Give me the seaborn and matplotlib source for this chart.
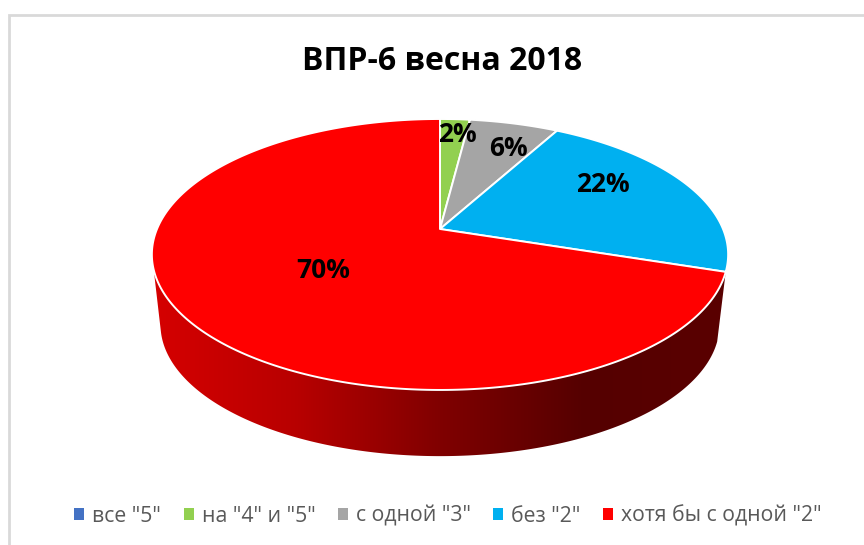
"""ВПР-6 весна 2018: 3D pie with a perspective projection."""

import matplotlib
matplotlib.use("Agg")
import matplotlib.pyplot as plt
import numpy as np
import seaborn as sns
from matplotlib.colors import ListedColormap
from matplotlib.patches import Patch, Polygon

categories = ['все "5"', 'на "4" и "5"', 'с одной "3"', 'без "2"', 'хотя бы с одной "2"']
shares = [0, 2, 6, 22, 70]
colors = ["#4472C4", "#92D050", "#A5A5A5", "#00B0F0", "#FF0000"]
title = "ВПР-6 весна 2018"

# label centres in pixels, one for each non-empty slice
label_xy = {2: (457, 135), 6: (508, 149), 22: (603, 184), 70: (323, 271)}

# projection of the disc
CX, CY = 440, 229
A, B, K = 283.0, 130.7, 0.188
SHRINK, DROP = 0.97, 71


def rim(theta, bottom=False):
    """Project clockwise-from-top angles (radians) on the disc edge."""
    u, v = np.sin(theta), np.cos(theta)
    x = A * u / (1 + K * v)
    y = -B * v / (1 + K * v)
    if bottom:
        return CX + SHRINK * x, CY + DROP + SHRINK * y
    return CX + x, CY + y


sns.set_theme(style="white")
plt.rcParams["font.family"] = ["Open Sans", "DejaVu Sans"]

fig = plt.figure(figsize=(8.64, 5.45), dpi=100)
ax = fig.add_axes([0, 0, 1, 1])

# chart frame, cut off by the screenshot
ax.plot([9, 9, 864], [545, 15, 15], color="#D9D9D9", lw=2, solid_joinstyle="miter")

edges = np.cumsum([0] + shares) / sum(shares) * 2 * np.pi

# red wall, shaded left to right and clipped to the visible side
wall = ListedColormap(sns.blend_palette(["#D60000", "#B80000", "#800000", "#550000", "#5A0000"], 256))
xt, yt = rim(np.linspace(edges[-2], 1.5 * np.pi - 0.30, 400))
xb, yb = rim(np.linspace(1.5 * np.pi - 0.25, edges[-2], 400), bottom=True)
side = Polygon(np.c_[np.r_[xt, xb], np.r_[yt, yb]], closed=True, transform=ax.transData, fc="none", ec="none")
ax.add_patch(side)
img = ax.imshow(np.linspace(0, 1, 256)[None, :], cmap=wall, extent=(150, 730, 460, 250), aspect="auto", zorder=2)
img.set_clip_path(side)

# top of the pie
for t0, t1, c in zip(edges[:-1], edges[1:], colors):
    if t1 <= t0:
        continue
    th = np.linspace(t0, t1, 300)
    xs, ys = rim(th)
    ax.fill(np.r_[CX, xs], np.r_[CY, ys], facecolor=c, edgecolor="white", lw=1.4,
            joinstyle="round", zorder=3)

for share in shares:
    if share > 0:
        x, y = label_xy[share]
        ax.text(x, y, f"{share}%", ha="center", va="center", fontsize=19,
                fontweight="bold", color="black", zorder=4)

ax.text(442, 61, title, ha="center", va="center", fontsize=23, fontweight="bold", color="black")

handles = [Patch(facecolor=c, edgecolor="none") for c in colors]
ax.legend(
    handles,
    categories,
    loc="center",
    bbox_to_anchor=(448, 516),
    bbox_transform=ax.transData,
    ncols=5,
    frameon=False,
    fontsize=15.3,
    labelcolor="#595959",
    handlelength=0.47,
    handleheight=0.47,
    handletextpad=0.38,
    columnspacing=1.05,
    borderpad=0,
)

ax.set_xlim(0, 864)
ax.set_ylim(545, 0)
ax.axis("off")

fig.savefig("out.png", dpi=100)
